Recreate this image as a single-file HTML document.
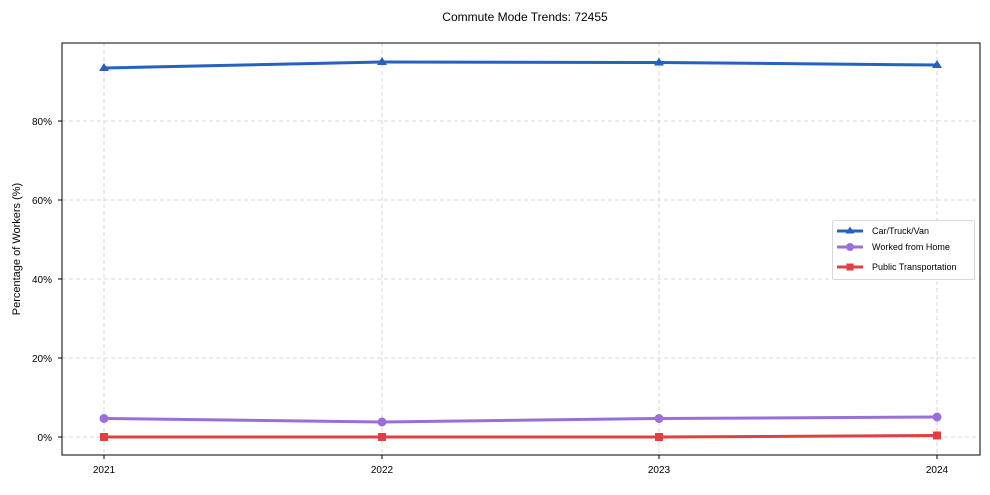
<!DOCTYPE html>
<html><head><meta charset="utf-8"><style>body{margin:0;background:#fff}</style></head><body>
<svg width="990" height="490" xmlns="http://www.w3.org/2000/svg" font-family="Liberation Sans, Arial, sans-serif">
<rect width="990" height="490" fill="#fff"/>
<text x="525" y="21" font-size="12" text-anchor="middle">Commute Mode Trends: 72455</text>
<g stroke="#cccccc" stroke-dasharray="4,3" stroke-width="0.8">
<line x1="104" y1="43" x2="104" y2="455"/><line x1="382" y1="43" x2="382" y2="455"/>
<line x1="659" y1="43" x2="659" y2="455"/><line x1="937" y1="43" x2="937" y2="455"/>
<line x1="62" y1="437" x2="980" y2="437"/><line x1="62" y1="358" x2="980" y2="358"/>
<line x1="62" y1="279" x2="980" y2="279"/><line x1="62" y1="200" x2="980" y2="200"/>
<line x1="62" y1="121" x2="980" y2="121"/>
</g>
<rect x="62" y="43" width="918" height="412" fill="none" stroke="#000" stroke-width="1"/>
<g font-size="10" text-anchor="end">
<text x="52" y="441">0%</text><text x="52" y="362">20%</text><text x="52" y="283">40%</text><text x="52" y="204">60%</text><text x="52" y="125">80%</text>
</g>
<g stroke="#000"><line x1="58" y1="437" x2="62" y2="437"/><line x1="58" y1="358" x2="62" y2="358"/><line x1="58" y1="279" x2="62" y2="279"/><line x1="58" y1="200" x2="62" y2="200"/><line x1="58" y1="121" x2="62" y2="121"/>
<line x1="104" y1="455" x2="104" y2="459"/><line x1="382" y1="455" x2="382" y2="459"/><line x1="659" y1="455" x2="659" y2="459"/><line x1="937" y1="455" x2="937" y2="459"/></g>
<g font-size="10" text-anchor="middle">
<text x="104" y="473">2021</text><text x="382" y="473">2022</text><text x="659" y="473">2023</text><text x="937" y="473">2024</text>
</g>
<text transform="translate(20,249) rotate(-90)" font-size="11" text-anchor="middle">Percentage of Workers (%)</text>
<polyline points="104,68 382,62 659,62.5 937,65" fill="none" stroke="#2660c0" stroke-width="3"/>
<g fill="#2660c0"><path d="M104,63 l5,8 h-10z"/><path d="M382,57 l5,8 h-10z"/><path d="M659,57.5 l5,8 h-10z"/><path d="M937,60 l5,8 h-10z"/></g>
<polyline points="104,418.5 382,422 659,418.5 937,417" fill="none" stroke="#9b6fd9" stroke-width="3"/>
<g fill="#9b6fd9"><circle cx="104" cy="418.5" r="4.5"/><circle cx="382" cy="422" r="4.5"/><circle cx="659" cy="418.5" r="4.5"/><circle cx="937" cy="417" r="4.5"/></g>
<polyline points="104,437 382,437 659,437 937,435.5" fill="none" stroke="#e04040" stroke-width="3"/>
<g fill="#e04040"><rect x="100" y="433" width="8" height="8"/><rect x="378" y="433" width="8" height="8"/><rect x="655" y="433" width="8" height="8"/><rect x="933" y="431.5" width="8" height="8"/></g>
<rect x="832.5" y="220.5" width="142" height="59" rx="2" fill="#fff" stroke="#d8d8d8"/>
<line x1="837" y1="231" x2="863" y2="231" stroke="#2660c0" stroke-width="3"/><path d="M850,226.5 l4.5,7 h-9z" fill="#2660c0"/>
<line x1="837" y1="247" x2="863" y2="247" stroke="#9b6fd9" stroke-width="3"/><circle cx="850" cy="247" r="4" fill="#9b6fd9"/>
<line x1="837" y1="267" x2="863" y2="267" stroke="#e04040" stroke-width="3"/><rect x="846.5" y="263.5" width="7" height="7" fill="#e04040"/>
<g font-size="9"><text x="872" y="234">Car/Truck/Van</text><text x="872" y="250">Worked from Home</text><text x="872" y="270">Public Transportation</text></g>
</svg>
</body></html>
